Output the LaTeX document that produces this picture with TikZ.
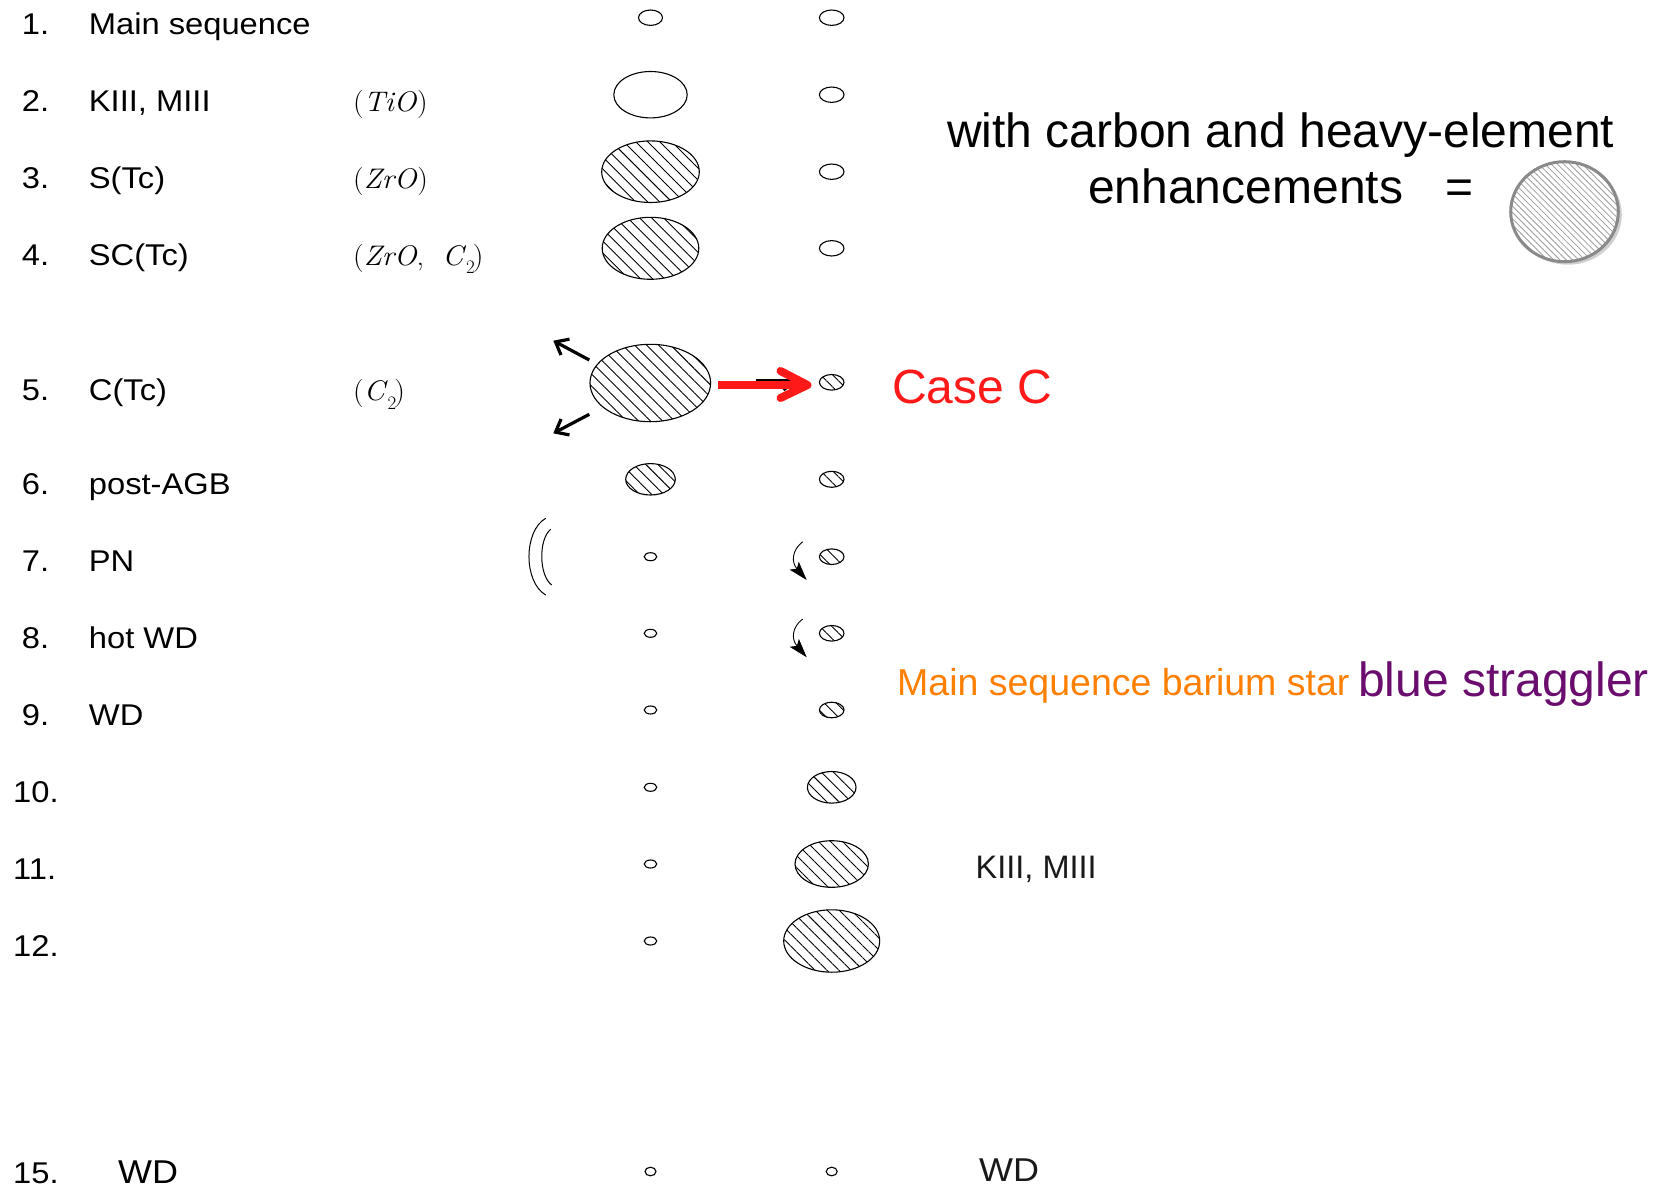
\documentclass[tikz,border=0pt]{standalone}
\usepackage{fontspec}
\usepackage{graphicx}
\setmainfont{Liberation Sans}
\newfontfamily\labfont[FakeStretch=1.09]{Liberation Sans}
\newfontfamily\lmfont{Latin Modern Roman}
\newcommand\mol[1]{{\lmfont\scalebox{1.06}[1]{#1}}}
\newcommand\subtwo{\raisebox{-0.3em}{\lmfont\fontsize{19}{22}\selectfont 2}}
\usetikzlibrary{shapes.geometric,patterns.meta,arrows.meta,shadows,calc}
\definecolor{orng}{RGB}{255,128,0}
\definecolor{purp}{RGB}{106,13,110}
\definecolor{redc}{RGB}{255,25,25}
\definecolor{legray}{RGB}{138,138,138}
\begin{document}
\begin{tikzpicture}[x=1pt,y=1pt,
  pl/.style={ellipse, draw, line width=1.1pt, inner sep=0pt},
  ht/.style={pl, pattern={Lines[angle=-45,distance=8.5pt,line width=0.9pt]}},
  lbl/.style={anchor=base west, inner sep=0pt, font=\labfont\fontsize{30}{36}\selectfont},
  mlbl/.style={anchor=base west, inner sep=0pt, font=\fontsize{28.3}{34}\selectfont},
  bigtxt/.style={anchor=base west, inner sep=0pt, font=\fontsize{48}{58}\selectfont},
  blk/.style={line width=3.2pt, -{Straight Barb[length=11pt,width=18pt]}},
  curv/.style={line width=0.9pt, -{Stealth[length=19pt,width=12pt,inset=4pt]}},
  redln/.style={draw=redc, line width=8pt},
  pnarc/.style={line width=1pt}]
\fill[white] (0,0) rectangle (1676,-1189);
\useasboundingbox (0,0) rectangle (1676,-1189);

% ---- number labels
\node[lbl] (n1) at (21.7,-34.3) {1.};
\node[lbl] (n2) at (21.7,-111.7) {2.};
\node[lbl] (n3) at (21.7,-188.3) {3.};
\node[lbl] (n4) at (21.7,-265) {4.};
\node[lbl] (n5) at (21.7,-400.7) {5.};
\node[lbl] (n6) at (21.7,-494) {6.};
\node[lbl] (n7) at (21.7,-571.7) {7.};
\node[lbl] (n8) at (21.7,-648.3) {8.};
\node[lbl] (n9) at (21.7,-725) {9.};
\node[lbl] (n10) at (13,-802.3) {10.};
\node[lbl] (n11) at (13,-879) {11.};
\node[lbl] (n12) at (13,-956) {12.};
\node[lbl] (n15) at (13,-1183.5) {15.};

% ---- names
\node[lbl] (t1) at (88.7,-34.3) {Main sequence};
\node[lbl] (t2) at (88.7,-111.7) {KIII, MIII};
\node[lbl] (t3) at (88.7,-188.3) {S(Tc)};
\node[lbl] (t4) at (88.7,-265) {SC(Tc)};
\node[lbl] (t5) at (88.7,-400.7) {C(Tc)};
\node[lbl] (t6) at (88.7,-494) {post-AGB};
\node[lbl] (t7) at (88.7,-571.7) {PN};
\node[lbl] (t8) at (88.7,-648.3) {hot WD};
\node[lbl] (t9) at (88.7,-725) {WD};
\node[lbl, font=\labfont\fontsize{33}{40}\selectfont] (t15) at (118,-1183.5) {WD};

% ---- molecules
\node[mlbl] (m2) at (353,-111.7) {\mol{(\textit{TiO})}};
\node[mlbl] (m3) at (353,-188.3) {\mol{(\textit{ZrO})}};
\node[mlbl] (m4) at (353,-265) {\mol{(\textit{ZrO},\ \ \textit{C}}\subtwo\hspace{-2pt}\mol{)}};
\node[mlbl] (m5) at (353,-400.7) {\mol{(\textit{C}}\subtwo\hspace{-2pt}\mol{)}};

% ---- left column
\node[pl, minimum width=24, minimum height=15.4] (L1) at (650.5,-17.7) {};
\node[pl, minimum width=73.4, minimum height=46.4] (L2) at (650.5,-94.7) {};
\node[ht, minimum width=97.6, minimum height=61.6] (L3) at (650.5,-171.7) {};
\node[ht, minimum width=96.6, minimum height=62] (L4) at (650.5,-248.3) {};
\node[ht, minimum width=120.6, minimum height=77.4] (L5) at (650.3,-383) {};
\node[ht, minimum width=49.6, minimum height=31.4] (L6) at (650.5,-479.3) {};
\node[pl, minimum width=12.6, minimum height=8] (L7) at (650.5,-556.7) {};
\node[pl, minimum width=12.6, minimum height=8] (L8) at (650.5,-633.3) {};
\node[pl, minimum width=12.6, minimum height=8] (L9) at (650.5,-710) {};
\node[pl, minimum width=12.6, minimum height=8] (L10) at (650.5,-787.3) {};
\node[pl, minimum width=12.6, minimum height=8] (L11) at (650.5,-864) {};
\node[pl, minimum width=12.6, minimum height=8] (L12) at (650.5,-941) {};
\node[pl, minimum width=11, minimum height=8.6] (L15) at (650.5,-1171.5) {};

% ---- right column
\node[pl, minimum width=24.6, minimum height=15.4] (R1) at (831.7,-17.7) {};
\node[pl, minimum width=24.6, minimum height=15.4] (R2) at (831.7,-94.7) {};
\node[pl, minimum width=24.6, minimum height=15.4] (R3) at (831.7,-171.7) {};
\node[pl, minimum width=24.6, minimum height=15.4] (R4) at (831.7,-248.3) {};
\node[ht, minimum width=24.6, minimum height=15.6] (R5) at (831.7,-382.3) {};
\node[ht, minimum width=24.6, minimum height=16] (R6) at (831.7,-479.3) {};
\node[ht, minimum width=24.6, minimum height=15.6] (R7) at (831.7,-556.7) {};
\node[ht, minimum width=24.6, minimum height=15.6] (R8) at (831.7,-633.3) {};
\node[ht, minimum width=24.6, minimum height=15.6] (R9) at (831.7,-710) {};
\node[ht, minimum width=48.6, minimum height=31.6] (R10) at (831.7,-787.3) {};
\node[ht, minimum width=73.4, minimum height=46.6] (R11) at (831.7,-864) {};
\node[ht, minimum width=96, minimum height=62.4] (R12) at (831.7,-941) {};
\node[pl, minimum width=11, minimum height=8.6] (R15) at (831.7,-1171.5) {};

% ---- arrows around C(Tc)
\coordinate (u5t) at (589.3,-360);
\coordinate (u5h) at (553.3,-340.7);
\coordinate (d5t) at (589.3,-414.3);
\coordinate (d5h) at (553.3,-433.3);
\draw[blk] (u5t) -- (u5h);
\draw[blk] (d5t) -- (d5h);
\coordinate (bkt) at (756,-381);
\coordinate (bkh) at (797,-381);
\draw[blk] (bkt) -- (bkh);
\coordinate (rtip) at (807.5,-385);
\path ([yshift=-2pt]L5.east) ++(7,0) coordinate (rtail);
\draw[redln] (rtail) -- (rtip);
\draw[redln, line cap=round, line join=round] ($(rtip)+(-27,14)$) -- (rtip) -- ($(rtip)+(-27,-13)$);

% ---- PN shells
\coordinate (pa1) at (545.7,-518.3);
\coordinate (pa2) at (545.7,-595);
\coordinate (pb1) at (550.7,-529.3);
\coordinate (pb2) at (551.7,-585);
\draw[pnarc] (pa1) .. controls (523.4,-531) and (523.4,-582) .. (pa2);
\draw[pnarc] (pb1) .. controls (538.6,-539) and (538.6,-575) .. (pb2);

% ---- curved arrows
\coordinate (c7s) at (802.7,-541.7);
\coordinate (c7e) at (806.7,-580);
\coordinate (c8s) at (802.7,-619);
\coordinate (c8e) at (806.7,-657.3);
\draw[curv] (c7s) .. controls (792,-550) and (791,-562) .. (c7e);
\draw[curv] (c8s) .. controls (792,-627) and (791,-639) .. (c8e);

% ---- legend
\node[bigtxt] (lg1) at (947,-147.5) {with carbon and heavy-element};
\node[bigtxt] (lg2) at (1088,-203) {enhancements};
\node[bigtxt] (lg3) at (1445,-203) {=};
\node[ellipse, draw=legray, line width=3pt, inner sep=0pt, minimum width=107.6, minimum height=100,
  drop shadow={shadow xshift=3.5pt, shadow yshift=-3pt, opacity=0.3, fill=black!60},
  preaction={fill=white},
  pattern={Lines[angle=-45,distance=4.4pt,line width=0.8pt]}, pattern color=legray!85] (leg) at (1564.5,-211.7) {};

% ---- other texts
\node[bigtxt, text=redc] (casec) at (892,-403) {Case C};
\node[anchor=base west, inner sep=0pt, text=orng, font=\fontsize{37.5}{45}\selectfont] (ba) at (897,-695.5) {Main sequence barium star};
\node[anchor=base west, inner sep=0pt, text=purp, font=\fontsize{48}{56}\selectfont] (bs) at (1358,-696) {blue straggler};
\node[anchor=base west, inner sep=0pt, text=black!90, font=\fontsize{32.5}{38}\selectfont] (k11) at (975.5,-878.3) {KIII, MIII};
\node[anchor=base west, inner sep=0pt, text=black!90, font=\labfont\fontsize{33}{40}\selectfont] (w15) at (979,-1181) {WD};
\end{tikzpicture}
\end{document}
